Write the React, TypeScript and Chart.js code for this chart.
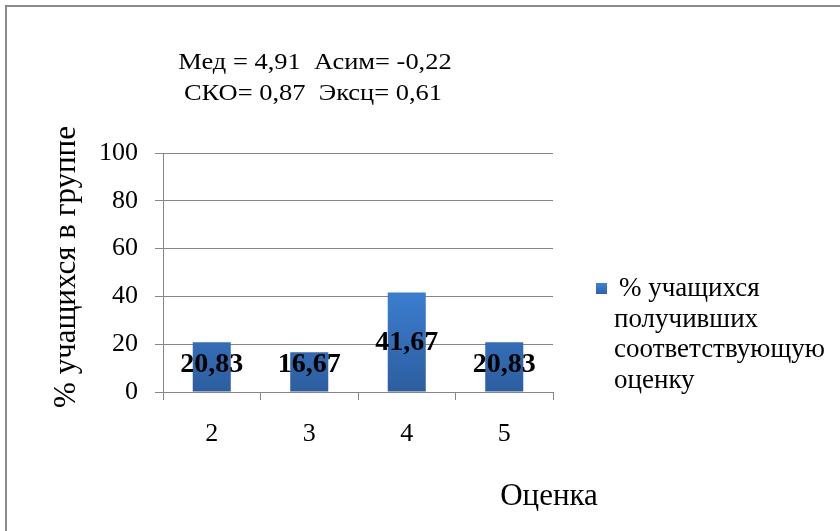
import React, { useEffect, useRef } from "react";
import { Chart, registerables } from "chart.js";

Chart.register(...registerables);

const categories = ["2", "3", "4", "5"];
const values = [20.83, 16.67, 41.67, 20.83];
const yMin = 0;
const yMax = 100;
const yStep = 20;
const titleLines = ["Мед = 4,91  Асим= -0,22", "СКО= 0,87  Эксц= 0,61"];
const legendLines = ["% учащихся", "получивших", "соответствующую", "оценку"];
const xTitle = "Оценка";
const yTitle = "% учащихся в группе";

const FONT = "'Liberation Serif', 'Times New Roman', serif";
const GRID = "#868686";

function stretchedText(ctx: any, text: string, x: number, y: number, sx: number) {
  ctx.save();
  ctx.translate(x, y);
  ctx.scale(sx, 1);
  ctx.fillText(text, 0, 0);
  ctx.restore();
}

const textPlugin = {
  id: "textPlugin",
  afterDatasetsDraw(chart: any) {
    const ctx = chart.ctx;
    ctx.save();
    // data labels
    const meta = chart.getDatasetMeta(0);
    ctx.font = `bold 28px ${FONT}`;
    ctx.fillStyle = "#000";
    ctx.textAlign = "center";
    ctx.textBaseline = "middle";
    meta.data.forEach((el: any, i: number) => {
      const v = values[i];
      const y = Math.min((el.y + el.base) / 2 + 1, el.base - 27);
      ctx.fillText(v.toFixed(2).replace(".", ","), el.x, y);
    });
    // title
    ctx.font = `23px ${FONT}`;
    stretchedText(ctx, titleLines[0], 315, 63, 1.15);
    stretchedText(ctx, titleLines[1], 313, 94, 1.15);
    // x title
    ctx.font = `31px ${FONT}`;
    ctx.fillText(xTitle, 549, 497);
    // y title
    ctx.save();
    ctx.translate(67, 267);
    ctx.rotate(-Math.PI / 2);
    ctx.fillText(yTitle, 0, 0);
    ctx.restore();
    // legend
    const g = ctx.createLinearGradient(0, 283, 0, 295);
    g.addColorStop(0, "#3F82D6");
    g.addColorStop(1, "#2C5EA3");
    ctx.fillStyle = g;
    ctx.fillRect(596, 283, 11, 11);
    ctx.fillStyle = "#000";
    ctx.textAlign = "left";
    ctx.font = `27px ${FONT}`;
    const ys = [289, 320, 350, 381];
    legendLines.forEach((t, i) => {
      ctx.fillText(t, i === 0 ? 619 : 614, ys[i]);
    });
    ctx.restore();
  },
};

export default function App() {
  const ref = useRef<HTMLCanvasElement>(null);
  useEffect(() => {
    if (!ref.current) return;
    const chart = new Chart(ref.current, {
      type: "bar",
      data: {
        labels: categories,
        datasets: [
          {
            data: values,
            backgroundColor: (c: any) => {
              const area = c.chart.chartArea;
              if (!area) return "#3570BD";
              const g = c.chart.ctx.createLinearGradient(0, area.top + 130, 0, area.bottom);
              g.addColorStop(0, "#3C80D4");
              g.addColorStop(1, "#2C5E9F");
              return g;
            },
            barPercentage: 0.39,
            categoryPercentage: 1,
          },
        ],
      },
      options: {
        animation: false,
        responsive: false,
        maintainAspectRatio: false,
        layout: { padding: { top: 153, right: 287, bottom: 0, left: 0 } },
        plugins: { legend: { display: false }, title: { display: false }, tooltip: { enabled: false } },
        scales: {
          x: {
            afterFit: (s: any) => {
              s.height = 139;
            },
            grid: { offset: true, drawOnChartArea: false, color: GRID, tickLength: 8 },
            border: { color: GRID },
            ticks: { color: "#000", font: { family: FONT, size: 26 }, padding: 19 },
          },
          y: {
            min: yMin,
            max: yMax,
            afterFit: (s: any) => {
              s.width = 163;
            },
            grid: { color: GRID, tickLength: 8 },
            border: { color: GRID },
            ticks: { stepSize: yStep, color: "#000", font: { family: FONT, size: 26 }, padding: 17 },
          },
        },
      },
      plugins: [textPlugin],
    });
    return () => chart.destroy();
  }, []);
  return (
    <div style={{ position: "fixed", left: 0, top: 0, width: 840, height: 531, background: "#fff" }}>
      <div
        style={{
          position: "absolute",
          left: 5,
          top: 5,
          width: 850,
          height: 540,
          border: "2px solid #8a8a8a",
          boxSizing: "border-box",
        }}
      />
      <canvas ref={ref} width={840} height={531} style={{ position: "absolute", left: 0, top: 0 }} />
    </div>
  );
}
